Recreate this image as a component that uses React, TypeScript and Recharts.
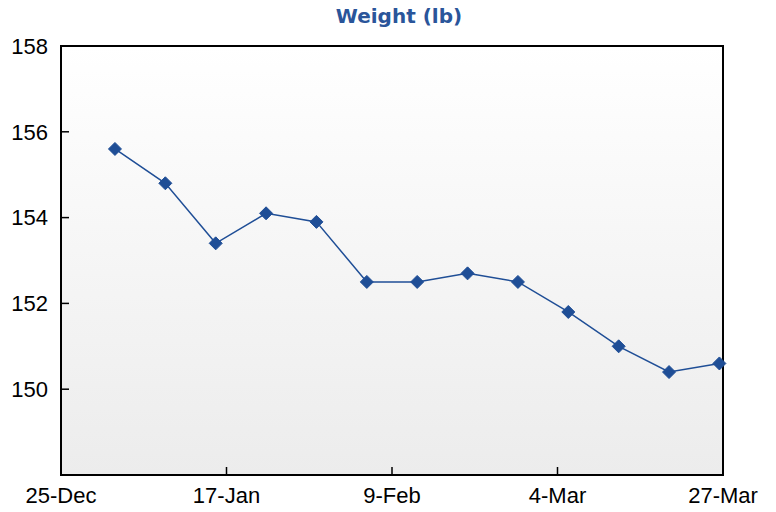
import React from "react";
import { LineChart, Line, XAxis, YAxis, ReferenceArea } from "recharts";

const days = [7.5, 14.5, 21.5, 28.5, 35.5, 42.5, 49.5, 56.5, 63.5, 70.5, 77.5, 84.5, 91.5];
const weights = [155.6, 154.8, 153.4, 154.1, 153.9, 152.5, 152.5, 152.7, 152.5, 151.8, 151.0, 150.4, 150.6];
const xTicks = [0, 23, 46, 69, 92];
const xTickLabels = ["25-Dec", "17-Jan", "9-Feb", "4-Mar", "27-Mar"];
const yTicks = [150, 152, 154, 156, 158];

const data = days.map((d, i) => ({ day: d, weight: weights[i] }));

const COLOR = "#1f4e96";

const Diamond = (props: any) => {
  const { cx, cy } = props;
  if (cx == null || cy == null) return null;
  const r = 6.5;
  return (
    <path
      d={`M${cx},${cy - r}L${cx + r},${cy}L${cx},${cy + r}L${cx - r},${cy}Z`}
      fill={COLOR}
      stroke={COLOR}
      strokeWidth={1}
    />
  );
};

export default function App() {
  const font = "'Liberation Sans', Arial, sans-serif";
  return (
    <div style={{ position: "absolute", left: 0, top: 0, width: 776, height: 512, background: "#fff" }}>
      <svg width={0} height={0} style={{ position: "absolute" }}>
        <defs>
          <linearGradient id="bgGrad" x1="0" y1="0" x2="0" y2="1">
            <stop offset="0%" stopColor="#ffffff" />
            <stop offset="100%" stopColor="#ececec" />
          </linearGradient>
        </defs>
      </svg>
      <div
        style={{
          position: "absolute",
          left: 0,
          top: 4,
          width: 798,
          textAlign: "center",
          fontFamily: "'DejaVu Sans', Verdana, sans-serif",
          fontWeight: "bold",
          fontSize: 20,
          lineHeight: "24px",
          color: "#2a559a",
        }}
      >
        Weight (lb)
      </div>
      <LineChart
        width={776}
        height={512}
        data={data}
        margin={{ top: 46, right: 53, bottom: 7, left: 11 }}
      >
        <XAxis
          dataKey="day"
          type="number"
          domain={[0, 92]}
          ticks={xTicks}
          tickFormatter={(v: number) => xTickLabels[xTicks.indexOf(v)] ?? ""}
          axisLine={false}
          tickLine={{ stroke: "#000", strokeWidth: 1.5 }}
          tickSize={-8}
          tickMargin={20}
          height={30}
          interval={0}
          tick={{ fill: "#000", fontSize: 22, fontFamily: font }}
        />
        <YAxis
          type="number"
          domain={[148, 158]}
          ticks={yTicks}
          axisLine={false}
          tickLine={{ stroke: "#000", strokeWidth: 1.5 }}
          tickSize={-8}
          tickMargin={21}
          width={50}
          interval={0}
          tick={{ fill: "#000", fontSize: 22, fontFamily: font }}
        />
        <ReferenceArea
          x1={0}
          x2={92}
          y1={148}
          y2={158}
          fill="url(#bgGrad)"
          fillOpacity={1}
          stroke="#000"
          strokeWidth={2}
          ifOverflow="visible"
        />
        <Line
          type="linear"
          dataKey="weight"
          stroke={COLOR}
          strokeWidth={1.5}
          dot={<Diamond />}
          activeDot={false}
          isAnimationActive={false}
        />
      </LineChart>
    </div>
  );
}
